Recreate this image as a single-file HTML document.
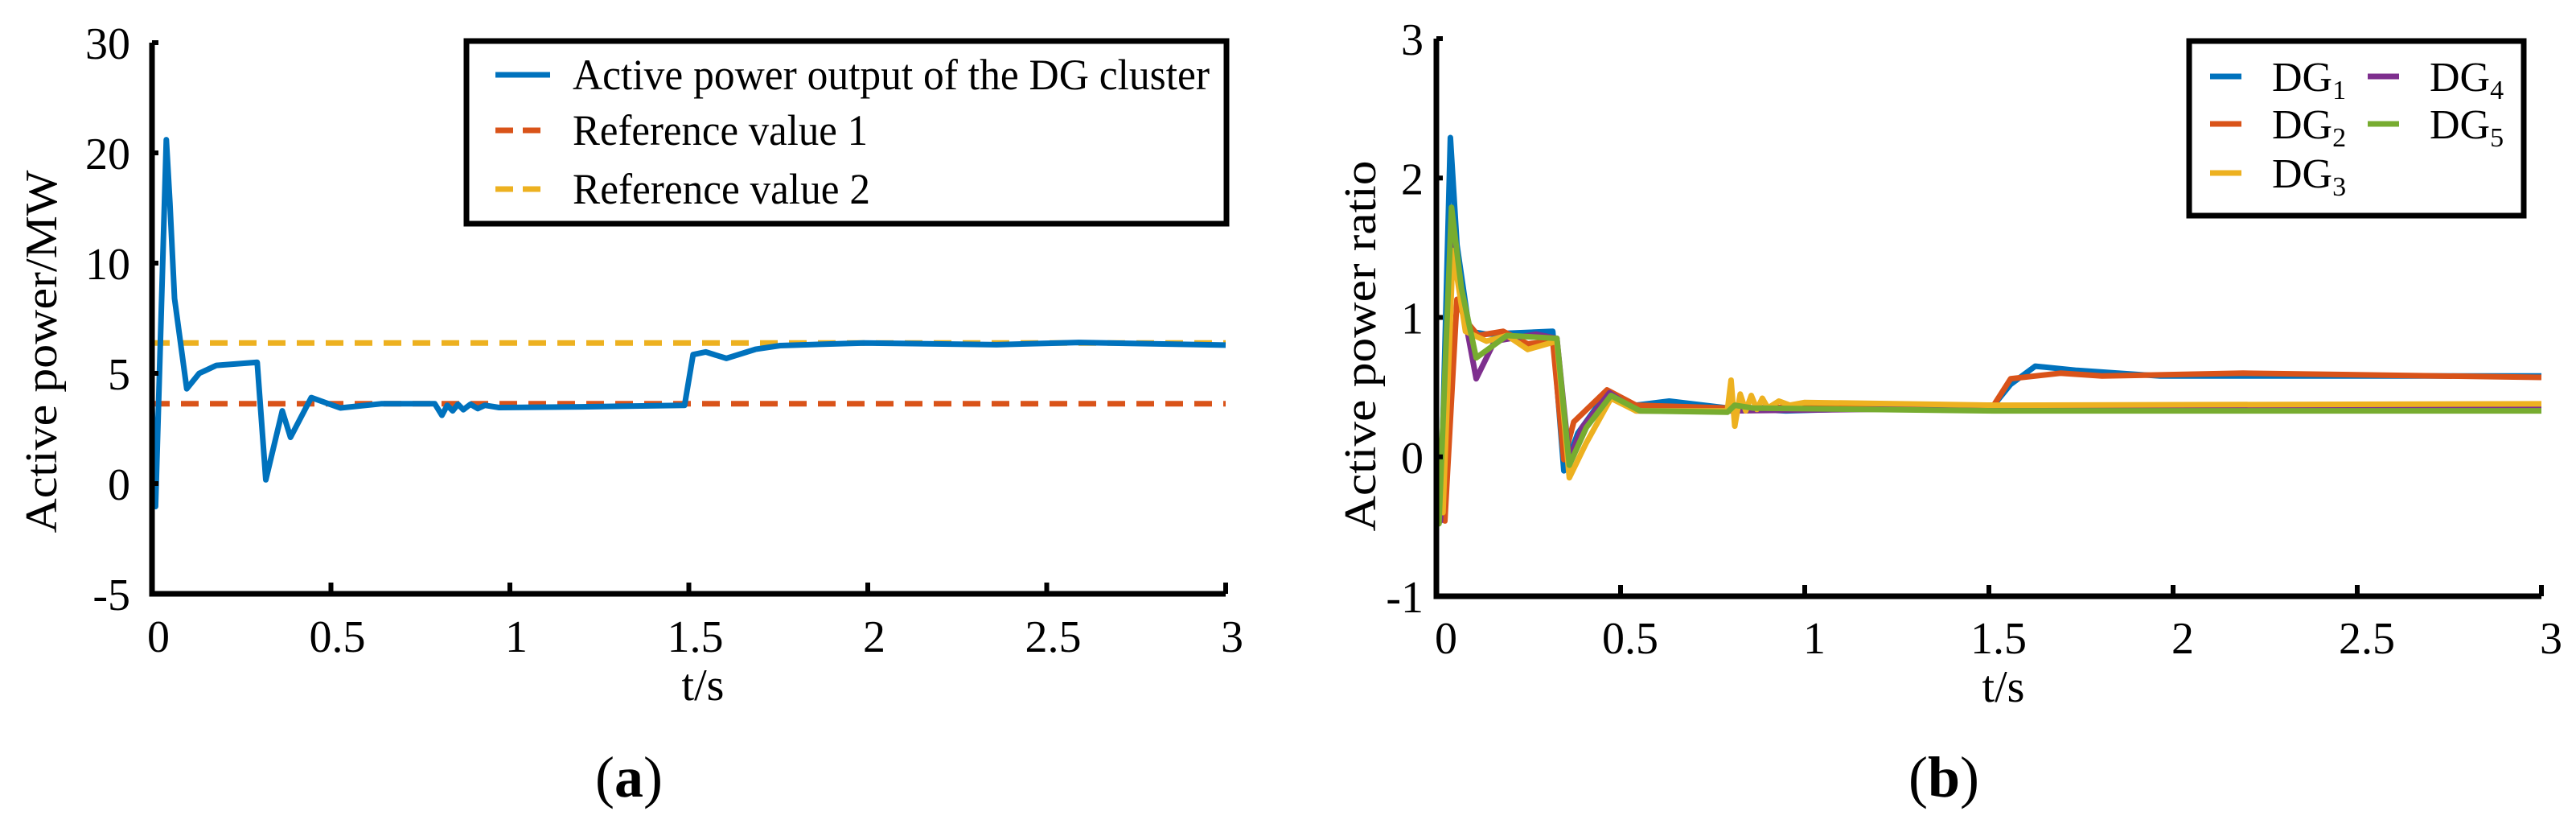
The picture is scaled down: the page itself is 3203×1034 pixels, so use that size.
<!DOCTYPE html>
<html><head><meta charset="utf-8"><style>
html,body{margin:0;padding:0;background:#fff;}
svg{display:block;font-family:"Liberation Serif",serif;}
</style></head><body>
<svg id="fig" width="3203" height="1034" viewBox="0 0 3203 1034" xmlns="http://www.w3.org/2000/svg">
<g id="pa"></g>
<g id="pb"></g>
<text x="782" y="990" font-size="72" text-anchor="middle">(<tspan font-weight="bold">a</tspan>)</text>
<text x="2417" y="990" font-size="72" text-anchor="middle">(<tspan font-weight="bold">b</tspan>)</text>
</svg>
<script>
// ---- Chart A data ----
const aXTicks = [0, 0.5, 1, 1.5, 2, 2.5, 3];
const aXTickLabels = ["0", "0.5", "1", "1.5", "2", "2.5", "3"];
const aYTicks = [-5, 0, 5, 10, 20, 30];
const aYTickLabels = ["-5", "0", "5", "10", "20", "30"];
const aT = [0, 0.01, 0.04, 0.05, 0.063, 0.097, 0.132, 0.18, 0.294, 0.318, 0.364, 0.387, 0.445, 0.526, 0.64, 0.79, 0.81, 0.825, 0.84, 0.855, 0.87, 0.89, 0.91, 0.93, 0.97, 1.2, 1.488, 1.512, 1.547, 1.605, 1.686, 1.755, 1.99, 2.36, 2.59, 3];
const aP = [3.67, -1.04, 21.2, 15.4, 8.4, 4.3, 5.0, 5.36, 5.5, 0.17, 3.3, 2.1, 3.9, 3.43, 3.62, 3.62, 3.1, 3.55, 3.3, 3.6, 3.35, 3.6, 3.4, 3.55, 3.45, 3.48, 3.55, 5.85, 5.97, 5.68, 6.09, 6.26, 6.38, 6.3, 6.4, 6.28];
const aRef1 = 3.62;
const aRef2 = 6.38;

// ---- Chart B data ----
const bXTicks = [0, 0.5, 1, 1.5, 2, 2.5, 3];
const bXTickLabels = ["0", "0.5", "1", "1.5", "2", "2.5", "3"];
const bYTicks = [-1, 0, 1, 2, 3];
const bYTickLabels = ["-1", "0", "1", "2", "3"];
const dg1T = [0, 0.011, 0.038, 0.056, 0.09, 0.136, 0.316, 0.346, 0.384, 0.463, 0.542, 0.632, 0.79, 0.949, 1.513, 1.559, 1.626, 1.739, 1.965, 3];
const dg1V = [0.02, -0.46, 2.29, 1.52, 0.9, 0.88, 0.9, -0.1, 0.17, 0.46, 0.37, 0.4, 0.35, 0.33, 0.37, 0.52, 0.65, 0.62, 0.58, 0.58];
const dg2T = [0, 0.023, 0.056, 0.079, 0.113, 0.181, 0.248, 0.316, 0.346, 0.373, 0.463, 0.542, 0.79, 1.513, 1.559, 1.694, 1.807, 2.19, 3];
const dg2V = [0.02, -0.46, 1.13, 0.98, 0.87, 0.9, 0.81, 0.83, -0.02, 0.25, 0.48, 0.37, 0.35, 0.37, 0.56, 0.6, 0.58, 0.6, 0.57];
const dg3T = [0, 0.018, 0.045, 0.079, 0.136, 0.192, 0.248, 0.327, 0.361, 0.407, 0.474, 0.542, 0.79, 0.80, 0.81, 0.825, 0.84, 0.855, 0.87, 0.885, 0.9, 0.93, 0.96, 1.0, 1.513, 3];
const dg3V = [0.02, -0.4, 1.48, 0.9, 0.83, 0.87, 0.77, 0.83, -0.15, 0.1, 0.42, 0.33, 0.33, 0.55, 0.22, 0.45, 0.33, 0.44, 0.34, 0.42, 0.35, 0.4, 0.37, 0.39, 0.37, 0.38];
const dg4T = [0, 0.011, 0.041, 0.068, 0.108, 0.158, 0.271, 0.327, 0.361, 0.395, 0.47, 0.542, 0.79, 1.513, 3];
const dg4V = [0.02, -0.46, 1.75, 1.13, 0.56, 0.83, 0.88, 0.85, -0.02, 0.21, 0.46, 0.33, 0.33, 0.35, 0.35];
const dg5T = [0, 0.007, 0.041, 0.068, 0.108, 0.192, 0.327, 0.361, 0.407, 0.474, 0.553, 0.79, 0.81, 0.858, 1.513, 3];
const dg5V = [0.21, -0.48, 1.79, 1.21, 0.71, 0.87, 0.85, -0.06, 0.21, 0.44, 0.33, 0.32, 0.37, 0.35, 0.33, 0.33];

const NS = "http://www.w3.org/2000/svg";
function mk(parent, tag, attrs) {
  const e = document.createElementNS(NS, tag);
  for (const k in attrs) e.setAttribute(k, attrs[k]);
  parent.appendChild(e);
  return e;
}

// ---------- Chart A ----------
(function () {
  const g = document.getElementById("pa");
  const x0 = 189, x1 = 1524, yTop = 53, yBot = 738;
  const xs = t => x0 + (t / 3) * (x1 - x0);
  const step = (yBot - yTop) / (aYTicks.length - 1);
  const ys = v => {
    for (let i = 0; i < aYTicks.length - 1; i++) {
      const a = aYTicks[i], b = aYTicks[i + 1];
      if (v <= b || i === aYTicks.length - 2) {
        return yBot - (i + (v - a) / (b - a)) * step;
      }
    }
  };
  let r1 = mk(g, "line", {x1: x0, x2: x1, y1: ys(aRef1), y2: ys(aRef1), stroke: "#D95319", "stroke-width": 7, "stroke-dasharray": "22 14"});
  
  
  let r2 = mk(g, "line", {x1: x0, x2: x1, y1: ys(aRef2), y2: ys(aRef2), stroke: "#EDB120", "stroke-width": 7, "stroke-dasharray": "22 14"});
  
  
  let d = aT.map((t, i) => (i ? "L" : "M") + xs(t).toFixed(1) + " " + ys(aP[i]).toFixed(1)).join(" ");
  let p = mk(g, "path", {d: d, fill: "none", stroke: "#0072BD", "stroke-width": 7, "stroke-linejoin": "round"});
  
  
  let ax = mk(g, "path", {d: `M${x0} ${yTop} L${x0} ${yBot} L${x1} ${yBot}`, fill: "none", stroke: "#000", "stroke-width": 7});
  
  
  aXTicks.forEach((t, i) => {
    const tk = mk(g, "line", {x1: xs(t), x2: xs(t), y1: yBot, y2: yBot - 14, stroke: "#000", "stroke-width": 6});
    
    
    const tl = mk(g, "text", {x: xs(t) + 8, y: 810, "font-size": 56, "text-anchor": "middle"});
    tl.textContent = aXTickLabels[i];
    
    
  });
  aYTicks.forEach((v, i) => {
    const y = ys(v);
    const tk = mk(g, "line", {x1: x0, x2: x0 + 8, y1: y, y2: y, stroke: "#000", "stroke-width": 6});
    
    
    const tl = mk(g, "text", {x: 162, y: y + 20, "font-size": 56, "text-anchor": "end"});
    tl.textContent = aYTickLabels[i];
    
    
  });
  const xt = mk(g, "text", {x: 874, y: 870, "font-size": 56, "text-anchor": "middle"});
  xt.textContent = "t/s";
  
  
  const yt = mk(g, "text", {x: 0, y: 0, "font-size": 56, "text-anchor": "middle", transform: "translate(70 437) rotate(-90)", textLength: 451, lengthAdjust: "spacingAndGlyphs"});
  yt.textContent = "Active power/MW";
  
  
  const lg = mk(g, "g", {});
  
  
  mk(lg, "rect", {x: 580, y: 51, width: 945, height: 227, fill: "#fff", stroke: "#000", "stroke-width": 7});
  const items = [["Active power output of the DG cluster", "#0072BD", null, 792], ["Reference value 1", "#D95319", "22 12", 367], ["Reference value 2", "#EDB120", "22 12", 370]];
  const rowsY = [93, 162, 235];
  items.forEach((it, i) => {
    const ent = mk(lg, "g", {});
    
    
    const la = {x1: 616, x2: 684, y1: rowsY[i], y2: rowsY[i], stroke: it[1], "stroke-width": 7};
    if (it[2]) la["stroke-dasharray"] = it[2];
    mk(ent, "line", la);
    const tx = mk(ent, "text", {x: 712, y: rowsY[i] + 18, "font-size": 54, textLength: it[3], lengthAdjust: "spacingAndGlyphs"});
    tx.textContent = it[0];
  });
})();

// ---------- Chart B ----------
(function () {
  const g = document.getElementById("pb");
  const x0 = 1786, x1 = 3160, yTop = 48, yBot = 741;
  const xs = t => x0 + (t / 3) * (x1 - x0);
  const ys = v => yBot - ((v + 1) / 4) * (yBot - yTop);
  const series = [
    ["dg1-line", dg1T, dg1V, "#0072BD"],
    ["dg2-line", dg2T, dg2V, "#D95319"],
    ["dg4-line", dg4T, dg4V, "#7E2F8E"],
    ["dg3-line", dg3T, dg3V, "#EDB120"],
    ["dg5-line", dg5T, dg5V, "#77AC30"]
  ];
  series.forEach(s => {
    const d = s[1].map((t, i) => (i ? "L" : "M") + xs(t).toFixed(1) + " " + ys(s[2][i]).toFixed(1)).join(" ");
    const p = mk(g, "path", {d: d, fill: "none", stroke: s[3], "stroke-width": 7, "stroke-linejoin": "round"});
    
    
  });
  const ax = mk(g, "path", {d: `M${x0} ${yTop} L${x0} ${yBot} L${x1} ${yBot}`, fill: "none", stroke: "#000", "stroke-width": 7});
  
  
  bXTicks.forEach((t, i) => {
    const tk = mk(g, "line", {x1: xs(t), x2: xs(t), y1: yBot, y2: yBot - 14, stroke: "#000", "stroke-width": 6});
    
    
    const tl = mk(g, "text", {x: xs(t) + 12, y: 812, "font-size": 56, "text-anchor": "middle"});
    tl.textContent = bXTickLabels[i];
    
    
  });
  bYTicks.forEach((v, i) => {
    const y = ys(v);
    const tk = mk(g, "line", {x1: x0, x2: x0 + 8, y1: y, y2: y, stroke: "#000", "stroke-width": 6});
    
    
    const tl = mk(g, "text", {x: 1770, y: y + 20, "font-size": 56, "text-anchor": "end"});
    tl.textContent = bYTickLabels[i];
    
    
  });
  const xt = mk(g, "text", {x: 2491, y: 872, "font-size": 56, "text-anchor": "middle"});
  xt.textContent = "t/s";
  
  
  const yt = mk(g, "text", {x: 0, y: 0, "font-size": 56, "text-anchor": "middle", transform: "translate(1710 430) rotate(-90)", textLength: 461, lengthAdjust: "spacingAndGlyphs"});
  yt.textContent = "Active power ratio";
  
  
  const lg = mk(g, "g", {});
  
  
  mk(lg, "rect", {x: 2722, y: 51, width: 416, height: 217, fill: "#fff", stroke: "#000", "stroke-width": 7});
  const ents = [["1", "#0072BD", 2748, 95], ["2", "#D95319", 2748, 154], ["3", "#EDB120", 2748, 215], ["4", "#7E2F8E", 2944, 95], ["5", "#77AC30", 2944, 154]];
  ents.forEach(e => {
    const eg = mk(lg, "g", {});
    
    
    mk(eg, "line", {x1: e[2], x2: e[2] + 39, y1: e[3], y2: e[3], stroke: e[1], "stroke-width": 7});
    const tx = mk(eg, "text", {x: e[2] + 77, y: e[3] + 18, "font-size": 52});
    tx.innerHTML = 'DG<tspan font-size="34" dy="10">' + e[0] + '</tspan>';
  });
})();
</script>
</body></html>
